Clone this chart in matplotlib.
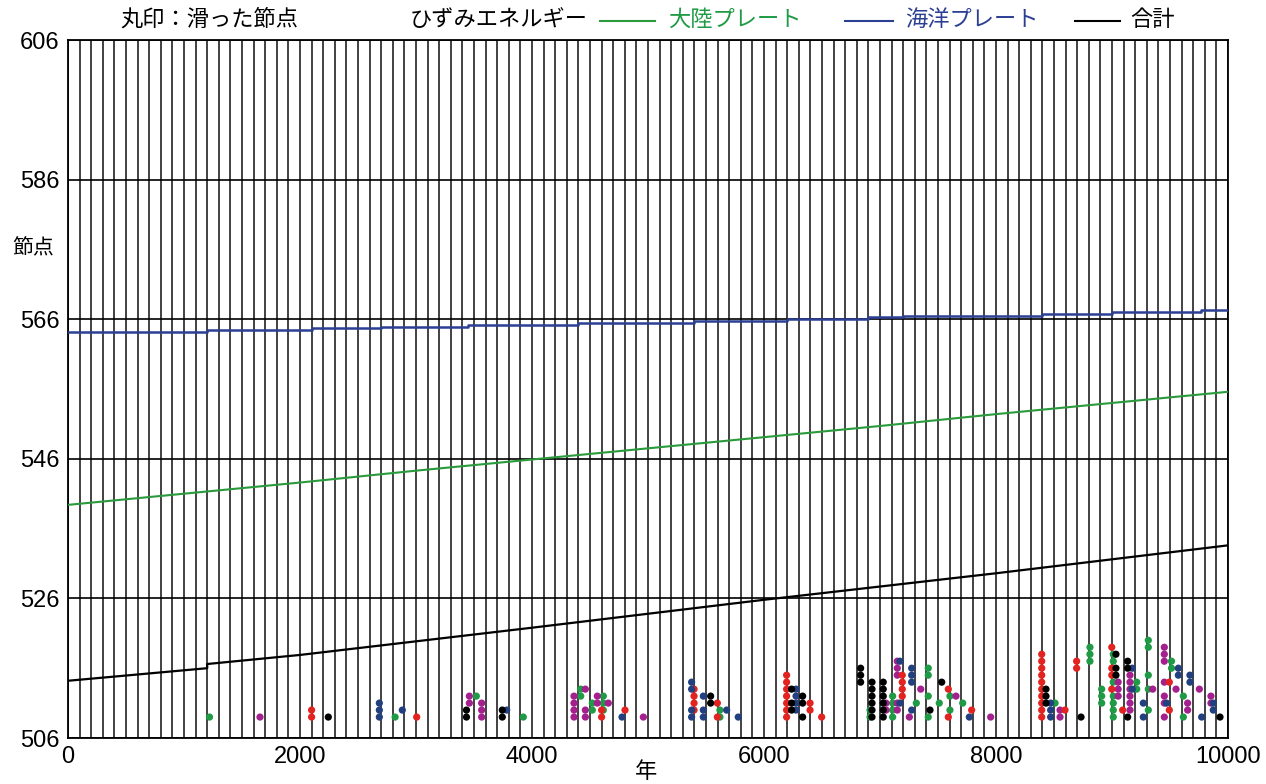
import matplotlib
matplotlib.use('Agg')
import matplotlib.pyplot as plt
from matplotlib import font_manager

# Slip events: (year, slipped node numbers) per marker colour
green_slips = [
    (1220, [509]), (2820, [509]), (3520, [512]), (3925, [509]),
    (4420, [513, 512]), (4520, [511, 510]), (4615, [512, 511, 510]),
    (5620, [510, 509]), (6914, [510, 509]), (7109, [512, 511, 510, 509]),
    (7313, [511]), (7416, [516, 515, 512, 509]), (7511, [511]),
    (7603, [512, 510]), (7713, [511]), (8509, [511]), (8810, [519, 518, 517]),
    (8911, [513, 512, 511]), (9011, [518, 517, 514, 512, 511, 510, 509]),
    (9213, [514, 513]), (9313, [520, 519, 515, 513, 510]), (9513, [517, 516]),
    (9615, [512, 509]),
]
magenta_slips = [
    (1655, [509]), (3460, [512, 511]), (3566, [511, 510, 509]),
    (4362, [512, 511, 510, 509]), (4460, [513, 510, 509]), (4563, [512, 511]),
    (4658, [511]), (4960, [509]), (7052, [511, 510]),
    (7149, [517, 516, 515, 511, 510]), (7253, [509]), (7351, [513]),
    (7655, [512]), (7954, [509]), (8552, [510, 509]), (9053, [514, 513, 512]),
    (9155, [515, 514, 513, 512, 511, 510]), (9351, [513]),
    (9451, [519, 518, 517, 514, 512, 511, 509]), (9552, [513]),
    (9652, [511, 510]), (9753, [513]), (9853, [512, 511]),
]
red_slips = [
    (2100, [510, 509]), (3006, [509]), (4600, [510, 509]), (4802, [510]),
    (5397, [513, 512, 511, 510]), (5598, [511, 509]),
    (6195, [515, 514, 513, 512, 511, 510, 509]), (6397, [511, 510]), (6497, [509]),
    (7192, [515, 514, 513, 512]), (7589, [513, 509]), (7790, [510]),
    (8394, [518, 517, 516, 515, 514, 513, 512, 511, 510, 509]), (8595, [510]),
    (8695, [517, 516]), (8998, [519, 516, 515, 513]), (9092, [510]),
    (9494, [514, 510]),
]
navy_slips = [
    (2684, [511, 510, 509]), (2882, [510]), (3782, [510]), (4776, [509]),
    (5376, [514, 513, 510, 509]), (5477, [512, 510, 509]), (5678, [510]),
    (5778, [509]), (6276, [513, 512, 511, 510]), (7172, [517, 511]),
    (7273, [516, 515, 514, 510]), (7770, [509]), (8471, [511, 510, 509]),
    (9175, [516, 513]), (9270, [511, 509]), (9470, [511]), (9572, [516, 515]),
    (9672, [515, 514]), (9773, [509]), (9873, [511, 510]),
]
black_slips = [
    (2244, [509]), (3435, [510, 509]), (3744, [510, 509]), (5540, [512, 511]),
    (6238, [513, 511, 510]), (6333, [512, 511, 509]), (6833, [516, 515, 514]),
    (6931, [514, 513, 512, 511, 510, 509]), (7028, [514, 513, 512, 511, 510, 509]),
    (7431, [510]), (7532, [514]), (8431, [513, 512, 511]), (8733, [509]),
    (9034, [518, 516, 515]), (9135, [517, 516, 509]), (9931, [509]),
]

# Strain energy curves (year, value)
ocean_years = [0, 1200, 2100, 2700, 3450, 4400, 5400, 6200, 6900, 7200, 8400, 9000, 9770, 10000]
ocean_vals = [564.2, 564.5, 564.7, 564.9, 565.1, 565.4, 565.7, 566.0, 566.3, 566.5, 566.8, 567.0, 567.3, 567.3]
cont_years = [0, 1000, 2000, 3000, 4000, 5000, 6000, 7000, 8000, 9000, 10000]
cont_vals = [539.4, 541.0, 542.6, 544.3, 545.9, 547.5, 549.1, 550.7, 552.4, 554.0, 555.6]
total_years = [0, 1200, 1200, 2000, 4000, 6000, 8000, 10000]
total_vals = [514.2, 516.0, 516.6, 517.9, 521.8, 525.8, 529.6, 533.6]

x_ticks = [0, 2000, 4000, 6000, 8000, 10000]
y_ticks = [506, 526, 546, 566, 586, 606]

installed = {f.name for f in font_manager.fontManager.ttflist}
num_font = 'Liberation Sans Narrow' if 'Liberation Sans Narrow' in installed else 'Liberation Sans'
jp_font = ['Noto Sans CJK JP', 'DejaVu Sans']

fig = plt.figure(figsize=(12.66, 7.84), dpi=100)
ax = fig.add_axes([68 / 1266, 1 - 738 / 784, 1160 / 1266, 698 / 784])

# grid: vertical line every 100 years, horizontal at the ticks
for yr in range(0, 10001, 100):
    ax.axvline(yr, color='#333333', lw=1.3, zorder=1)
for v in y_ticks:
    ax.axhline(v, color='black', lw=1.2, zorder=1)

ax.step(ocean_years, ocean_vals, where='post', color='#2b3f93', lw=1.8, zorder=3)
ax.plot(cont_years, cont_vals, color='#2a9a3c', lw=1.5, zorder=3)
ax.plot(total_years, total_vals, color='black', lw=1.6, zorder=3)

for slips, col in [(green_slips, '#1f9a45'), (magenta_slips, '#a3208e'),
                   (red_slips, '#e2231f'), (navy_slips, '#22407f'),
                   (black_slips, '#000000')]:
    xs = [yr for yr, nodes in slips for _ in nodes]
    ys = [n for _, nodes in slips for n in nodes]
    ax.scatter(xs, ys, s=27, color=col, edgecolors='none', zorder=4)

ax.set_xlim(0, 10000)
ax.set_ylim(506, 606)
ax.set_xticks(x_ticks)
ax.set_yticks(y_ticks)
ax.tick_params(length=0, pad=6, labelsize=17)
for lab in ax.get_xticklabels() + ax.get_yticklabels():
    lab.set_family(num_font)
for s in ax.spines.values():
    s.set_linewidth(1.3)

fig.text(12 / 1266, 1 - 248 / 784, '節点', family=jp_font, fontsize=15, va='center')
fig.text(646 / 1266, 1 - 771 / 784, '年', family=jp_font, fontsize=16, ha='center', va='center')

# legend line across the top
fs = 16
fig.text(120 / 1266, 1 - 19 / 784, '丸印：滑った節点', family=jp_font, fontsize=fs, va='center')
fig.text(410 / 1266, 1 - 19 / 784, 'ひずみエネルギー', family=jp_font, fontsize=fs, va='center')
for x0, x1, col in [(600, 655, '#2a9a3c'), (845, 893, '#2b3f93'), (1075, 1120, 'black')]:
    fig.add_artist(plt.Line2D([x0 / 1266, x1 / 1266], [1 - 21 / 784] * 2, color=col, lw=1.5))
fig.text(668 / 1266, 1 - 19 / 784, '大陸プレート', family=jp_font, fontsize=fs, va='center', color='#1f9a45')
fig.text(905 / 1266, 1 - 19 / 784, '海洋プレート', family=jp_font, fontsize=fs, va='center', color='#2b3f93')
fig.text(1130 / 1266, 1 - 19 / 784, '合計', family=jp_font, fontsize=fs, va='center')

fig.savefig('out.png', dpi=100)
